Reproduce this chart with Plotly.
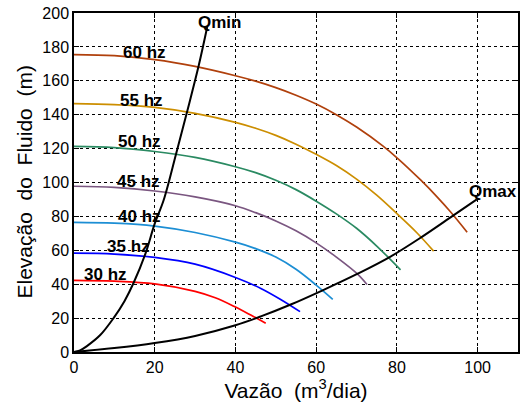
import plotly.graph_objects as go

# ---- data ----
x60 = [0, 10, 20, 30, 40, 45, 50, 55, 60, 65, 70, 76.5, 80.3, 86, 90, 93.1, 97.4]
y60 = [175.5, 174.8, 172.5, 168.5, 163, 159.8, 156, 151.5, 146.3, 140, 132.7, 121.6, 114, 101.2, 91.4, 83.2, 70.7]

x55 = [0, 10, 20, 30, 40, 45, 50, 55, 60, 65, 70, 75, 80, 85, 89.1]
y55 = [146.5, 145.9, 144.3, 140.8, 135.5, 132, 127.8, 122.6, 116.6, 110, 102, 92.5, 81.6, 70.2, 59.5]

x50 = [0, 10, 20, 30, 40, 45, 50, 55, 60, 65, 70, 75, 80.9]
y50 = [121.3, 120.6, 118.3, 114.8, 109.3, 105.8, 101.3, 95.8, 89, 81.5, 73, 62.5, 48.5]

x45 = [0, 10, 20, 30, 40, 45, 50, 55, 60, 65, 70, 72.6]
y45 = [97.8, 97.1, 95, 91.5, 86.3, 82.2, 77.3, 71.5, 64.4, 56, 46.5, 39.8]

x40 = [0, 10, 20, 30, 40, 45, 50, 55, 60, 64.1]
y40 = [76.5, 76, 74.3, 70.5, 64.8, 61, 56, 48.8, 39.5, 31.1]

x35 = [0, 10, 20, 30, 40, 46.3, 51.2, 56]
y35 = [58.3, 57.8, 55.8, 51.8, 44, 37.5, 31, 23.8]

x30 = [0, 10, 20, 30, 35, 39.6, 43.8, 47.5]
y30 = [42.3, 41.8, 40.2, 35.8, 32, 27, 21.8, 17]

xqmin = [0, 1.5, 3.2, 6.5, 9.8, 12.5, 14.75, 17.7, 20, 22.2, 25.3, 28, 30.9, 33]
yqmin = [0, 1, 3.5, 10, 20, 30, 40.7, 58, 75.7, 89.5, 117, 141.6, 169, 191.7]

xqmax = [0, 10, 20, 30, 40, 46.3, 53.7, 61.6, 70.3, 78.2, 86.1, 94, 99.8]
yqmax = [0, 2.3, 5.3, 9.5, 15.8, 21, 28, 36.4, 46.2, 56, 67.8, 80.6, 90]

curve_names = ["60 hz", "55 hz", "50 hz", "45 hz", "40 hz", "35 hz", "30 hz"]
curve_x = [x60, x55, x50, x45, x40, x35, x30]
curve_y = [y60, y55, y50, y45, y40, y35, y30]
curve_colors = ["#B0400C", "#CC8E00", "#2A8A62", "#7A5680", "#1C8ED4", "#0000FF", "#FF0000"]

# label positions (data coordinates)
label_x = [17.5, 16.6, 16.3, 16.0, 16.2, 13.4, 7.9]
label_y = [176.6, 148.5, 123.9, 100.3, 80.2, 62.4, 45.8]

x_ticks = [0, 20, 40, 60, 80, 100]
y_ticks = [0, 20, 40, 60, 80, 100, 120, 140, 160, 180, 200]

FONT = "Liberation Sans, Arial, Helvetica, sans-serif"

fig = go.Figure()
for name, xs, ys, c in zip(curve_names, curve_x, curve_y, curve_colors):
    fig.add_trace(go.Scatter(x=xs, y=ys, mode="lines", name=name,
                             line=dict(color=c, width=1.7, shape="spline", smoothing=1.0)))
fig.add_trace(go.Scatter(x=xqmin, y=yqmin, mode="lines", name="Qmin",
                         line=dict(color="black", width=2, shape="spline", smoothing=1.0)))
fig.add_trace(go.Scatter(x=xqmax, y=yqmax, mode="lines", name="Qmax",
                         line=dict(color="black", width=2, shape="spline", smoothing=1.0)))

for name, lx, ly in zip(curve_names, label_x, label_y):
    fig.add_annotation(x=lx, y=ly, text="<b>%s</b>" % name, showarrow=False,
                       font=dict(family=FONT, size=17, color="black"),
                       xanchor="center", yanchor="middle")
fig.add_annotation(x=36.1, y=194.5, text="<b>Qmin</b>", showarrow=False,
                   font=dict(family=FONT, size=17, color="black"))
fig.add_annotation(x=103.7, y=94.4, text="<b>Qmax</b>", showarrow=False,
                   font=dict(family=FONT, size=17, color="black"))

# y title as annotation for precise placement
fig.add_annotation(xref="paper", yref="paper", x=-0.1126, y=0.5,
                   text="Elevação\u00a0\u00a0do\u00a0\u00a0Fluido\u00a0\u00a0(m)",
                   textangle=-90, showarrow=False, xanchor="center", yanchor="middle",
                   font=dict(family=FONT, size=21, color="black"))

axis_common = dict(
    showline=True, linecolor="black", linewidth=1.5, mirror="allticks",
    ticks="inside", ticklen=5, tickcolor="black", tickwidth=1,
    showgrid=True, gridcolor="black", gridwidth=1, griddash="dot",
    zeroline=False, automargin=False,
    tickfont=dict(family=FONT, size=16, color="black"),
)

fig.update_xaxes(range=[0, 110], tickvals=x_ticks,
                 title=dict(text="Vazão\u00a0\u00a0(m<sup>3</sup>/dia)",
                            font=dict(family=FONT, size=21, color="black"), standoff=8),
                 **axis_common)
fig.update_yaxes(range=[0, 200], tickvals=y_ticks, **axis_common)

fig.update_layout(
    width=520, height=410,
    margin=dict(l=74, r=2, t=13, b=58),
    paper_bgcolor="white", plot_bgcolor="white",
    showlegend=False,
    font=dict(family=FONT, color="black"),
)

fig.write_html("out.html", config={"displayModeBar": False},
               post_script="document.body.style.margin='0';")
